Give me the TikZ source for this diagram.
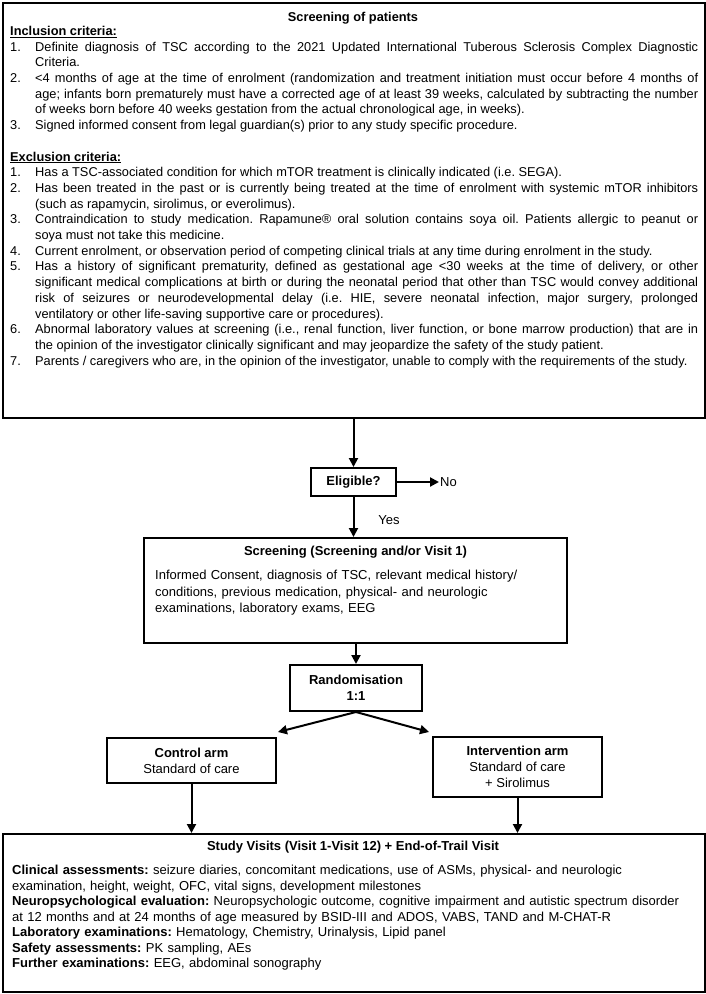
\documentclass[tikz,border=0pt]{standalone}
\usepackage{fontspec}
\setmainfont{Liberation Sans}
\usetikzlibrary{arrows.meta}
\newcommand\critem[2]{\par\hangindent=25pt\hangafter=1\noindent\makebox[25pt][l]{#1}#2}
\frenchspacing
\begin{document}
\begin{tikzpicture}[x=1pt,y=-1pt,
  box/.style={draw, line width=2pt, inner sep=0pt},
  arr/.style={line width=2pt, -{Triangle[length=9pt,width=9pt]}},
  lbl/.style={font=\fontsize{13}{15}\selectfont, inner sep=1pt},
  bold/.style={font=\bfseries\fontsize{13}{15}\selectfont, inner sep=0pt}]
\useasboundingbox (0,0) rectangle (706,994);
\fill[white] (0,0) rectangle (706,994);

% top box
\node[box, anchor=north west, minimum width=702pt, minimum height=415pt] (topbox) at (2,2) {};
\node[font=\bfseries\fontsize{12.8}{15.7}\selectfont, inner sep=0pt] (toptitle) at (353,18) {Screening of patients};
\node[anchor=north west, inner sep=0pt, text width=688pt, align=justify,
      font=\fontsize{12.8}{15.7}\selectfont\frenchspacing] (toptext) at (10,26) {%
\noindent\underline{\textbf{Inclusion criteria:}}
\critem{1.}{Definite diagnosis of TSC according to the 2021 Updated International Tuberous Sclerosis Complex Diagnostic\linebreak Criteria.}
\critem{2.}{<4 months of age at the time of enrolment (randomization and treatment initiation must occur before 4 months of\linebreak age; infants born prematurely must have a corrected age of at least 39 weeks, calculated by subtracting the number\linebreak of weeks born before 40 weeks gestation from the actual chronological age, in weeks).}
\critem{3.}{Signed informed consent from legal guardian(s) prior to any study specific procedure.}
\par\vspace{15.7pt}
\noindent\underline{\textbf{Exclusion criteria:}}
\critem{1.}{Has a TSC-associated condition for which mTOR treatment is clinically indicated (i.e. SEGA).}
\critem{2.}{Has been treated in the past or is currently being treated at the time of enrolment with systemic mTOR inhibitors\linebreak (such as rapamycin, sirolimus, or everolimus).}
\critem{3.}{Contraindication to study medication. Rapamune® oral solution contains soya oil. Patients allergic to peanut or\linebreak soya must not take this medicine.}
\critem{4.}{Current enrolment, or observation period of competing clinical trials at any time during enrolment in the study.}
\critem{5.}{Has a history of significant prematurity, defined as gestational age <30 weeks at the time of delivery, or other\linebreak significant medical complications at birth or during the neonatal period that other than TSC would convey additional\linebreak risk of seizures or neurodevelopmental delay (i.e. HIE, severe neonatal infection, major surgery, prolonged\linebreak ventilatory or other life-saving supportive care or procedures).}
\critem{6.}{Abnormal laboratory values at screening (i.e., renal function, liver function, or bone marrow production) that are in\linebreak the opinion of the investigator clinically significant and may jeopardize the safety of the study patient.}
\critem{7.}{Parents / caregivers who are, in the opinion of the investigator, unable to comply with the requirements of the study.}\par};

% eligible
\node[box, bold, minimum width=85pt, minimum height=28pt] (elig) at (353.5,482) {Eligible?};
\draw[arr] (elig.north |- topbox.south) -- (elig.north);
\node[lbl, anchor=west] (no) at (439,482) {No};
\draw[arr] (elig.east) -- (no.west);
\node[lbl] (yes) at (389,520) {Yes};

% screening
\node[box, anchor=north, minimum width=423pt, minimum height=105pt] (scr) at (355.5,537) {};
\draw[arr] (elig.south) -- (elig.south |- scr.north);
\node[bold] (scrtitle) at (355.5,552) {Screening (Screening and/or Visit 1)};
\node[anchor=north west, inner sep=0pt, text width=400pt, align=left,
      font=\fontsize{13}{16.5}\selectfont] (scrbody) at (155,570)
  {Informed Consent, diagnosis of TSC, relevant medical history/\\conditions, previous medication, physical- and neurologic\\examinations, laboratory exams, EEG};

% randomisation
\node[box, minimum width=132pt, minimum height=46pt, align=center,
      font=\bfseries\fontsize{13}{16}\selectfont] (rand) at (356,688) {Randomisation\\1:1};
\draw[arr] (rand.north |- scr.south) -- (rand.north);
\coordinate (cl) at (278,732);
\coordinate (cr) at (429,732);
\draw[arr] (rand.south) -- (cl);
\draw[arr] (rand.south) -- (cr);

% arms
\node[box, minimum width=169pt, minimum height=45pt, align=center,
      font=\fontsize{13}{16}\selectfont] (ctrl) at (191.5,760.5) {\textbf{Control arm}\\Standard of care};
\node[box, minimum width=169pt, minimum height=60pt, align=center,
      font=\fontsize{13}{16}\selectfont] (intv) at (517.5,767) {\textbf{Intervention arm}\\Standard of care\\+ Sirolimus};

% study visits
\node[box, anchor=north west, minimum width=702pt, minimum height=158pt] (study) at (2,833) {};
\draw[arr] (ctrl.south) -- (ctrl.south |- study.north);
\draw[arr] (intv.south) -- (intv.south |- study.north);
\node[bold] (studytitle) at (353,847) {Study Visits (Visit 1-Visit 12) + End-of-Trail Visit};
\node[anchor=north west, inner sep=0pt, text width=690pt, align=left,
      font=\fontsize{13}{15.5}\selectfont] (studybody) at (12,865)
  {\textbf{Clinical assessments:} seizure diaries, concomitant medications, use of ASMs, physical- and neurologic\\
   examination, height, weight, OFC, vital signs, development milestones\\
   \textbf{Neuropsychological evaluation:} Neuropsychologic outcome, cognitive impairment and autistic spectrum disorder\\
   at 12 months and at 24 months of age measured by BSID-III and ADOS, VABS, TAND and M-CHAT-R\\
   \textbf{Laboratory examinations:} Hematology, Chemistry, Urinalysis, Lipid panel\\
   \textbf{Safety assessments:} PK sampling, AEs\\
   \textbf{Further examinations:} EEG, abdominal sonography};
\end{tikzpicture}
\end{document}
